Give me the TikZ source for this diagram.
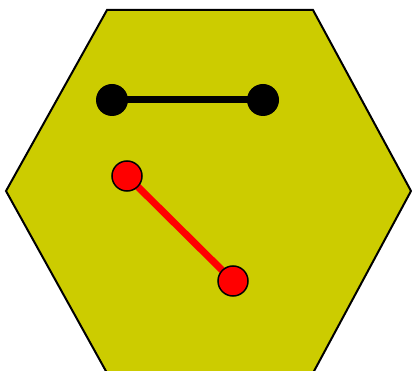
\documentclass[tikz,border=0pt]{standalone}
\usetikzlibrary{backgrounds}
\definecolor{hexfill}{RGB}{204,204,0}
\tikzset{
  blackdot/.style={circle,fill=black,draw=none,minimum size=32pt,inner sep=0pt},
  reddot/.style={circle,fill=red,draw=black,line width=1.5pt,minimum size=30pt,inner sep=0pt},
  blackbar/.style={draw=black,line width=7pt},
  redbar/.style={draw=red,line width=7pt},
}
\begin{document}
\begin{tikzpicture}[x=1pt,y=-1pt]
\useasboundingbox (0,0) rectangle (412,371);
\node[blackdot] (b1) at (112,100) {};
\node[blackdot] (b2) at (263,100) {};
\node[reddot] (r1) at (127,176) {};
\node[reddot] (r2) at (233,281) {};
\begin{scope}[on background layer]
\filldraw[fill=hexfill,draw=black,line width=2pt,line join=miter]
  (107,10) -- (313,10) -- (411,191) -- (313,373) -- (107,373) -- (6,191) -- cycle;
\draw[blackbar] (b1.center) -- (b2.center);
\draw[redbar] (r1.center) -- (r2.center);
\end{scope}
\end{tikzpicture}
\end{document}
